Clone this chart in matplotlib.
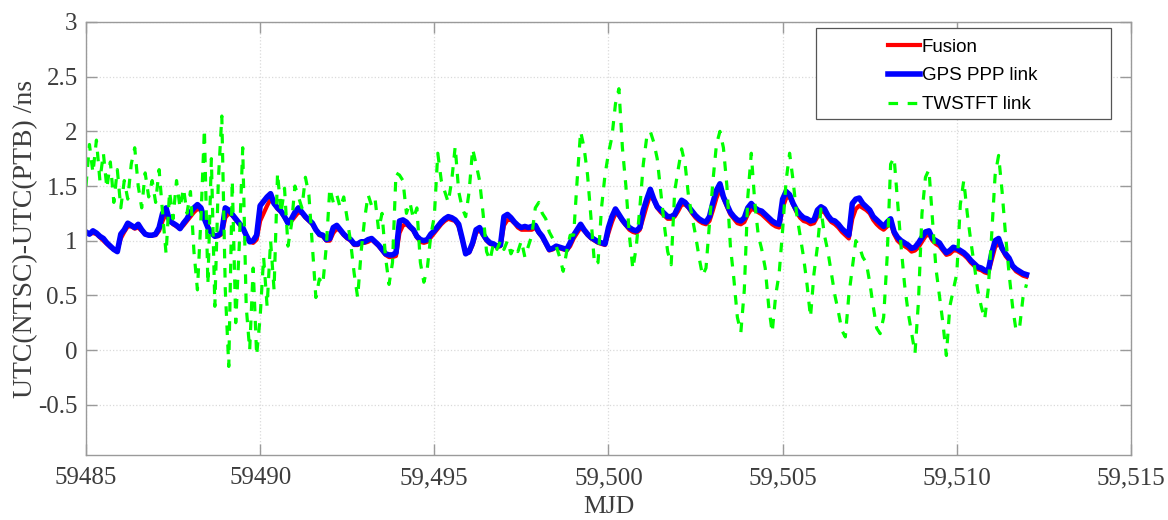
import numpy as np
import matplotlib
matplotlib.use("Agg")
import matplotlib.pyplot as plt
from matplotlib.patches import Rectangle

# MJD grid: one sample every 0.1 day from 59485.0 to 59512.0
mjd_start = 59485.0
mjd_step = 0.1

# one row = one day (.0 ... .9), last value is 59512.0
fusion = [
    1.07, 1.06, 1.07, 1.06, 1.03, 1.00, 0.97, 0.94, 0.92, 0.91,
    1.02, 1.08, 1.13, 1.13, 1.11, 1.12, 1.09, 1.06, 1.05, 1.05,
    1.05, 1.09, 1.18, 1.25, 1.19, 1.15, 1.13, 1.11, 1.14, 1.18,
    1.22, 1.26, 1.29, 1.28, 1.20, 1.13, 1.07, 1.04, 1.04, 1.06,
    1.21, 1.25, 1.23, 1.19, 1.15, 1.11, 1.05, 0.99, 0.98, 1.01,
    1.18, 1.25, 1.32, 1.38, 1.34, 1.29, 1.26, 1.21, 1.16, 1.18,
    1.22, 1.26, 1.25, 1.21, 1.18, 1.15, 1.10, 1.05, 1.04, 1.00,
    1.00, 1.07, 1.11, 1.09, 1.05, 1.02, 1.00, 0.96, 0.96, 0.98,
    0.98, 0.99, 1.01, 0.98, 0.95, 0.91, 0.87, 0.85, 0.85, 0.86,
    1.07, 1.14, 1.15, 1.12, 1.09, 1.03, 0.99, 0.98, 0.99, 1.03,
    1.07, 1.11, 1.15, 1.18, 1.20, 1.19, 1.18, 1.13, 1.01, 0.89,
    0.89, 0.96, 1.07, 1.10, 1.05, 1.00, 0.97, 0.96, 0.94, 0.95,
    1.14, 1.19, 1.19, 1.16, 1.12, 1.10, 1.10, 1.10, 1.10, 1.12,
    1.07, 1.03, 0.97, 0.91, 0.92, 0.94, 0.93, 0.92, 0.91, 0.95,
    1.02, 1.07, 1.12, 1.09, 1.05, 1.02, 1.00, 0.98, 0.97, 0.96,
    1.07, 1.17, 1.25, 1.23, 1.18, 1.14, 1.10, 1.08, 1.07, 1.10,
    1.21, 1.32, 1.42, 1.37, 1.30, 1.26, 1.23, 1.20, 1.20, 1.22,
    1.27, 1.33, 1.33, 1.30, 1.25, 1.21, 1.18, 1.16, 1.15, 1.18,
    1.28, 1.39, 1.47, 1.39, 1.31, 1.24, 1.20, 1.16, 1.15, 1.17,
    1.24, 1.29, 1.28, 1.26, 1.24, 1.21, 1.18, 1.15, 1.13, 1.12,
    1.30, 1.39, 1.40, 1.33, 1.26, 1.21, 1.18, 1.17, 1.15, 1.16,
    1.22, 1.27, 1.26, 1.21, 1.17, 1.15, 1.12, 1.08, 1.05, 1.02,
    1.20, 1.29, 1.32, 1.30, 1.28, 1.25, 1.19, 1.15, 1.12, 1.10,
    1.13, 1.16, 1.06, 1.00, 0.97, 0.95, 0.93, 0.90, 0.91, 0.94,
    0.99, 1.04, 1.06, 1.00, 0.97, 0.95, 0.91, 0.87, 0.88, 0.91,
    0.91, 0.89, 0.87, 0.84, 0.80, 0.77, 0.74, 0.73, 0.71, 0.70,
    0.82, 0.94, 0.98, 0.92, 0.86, 0.82, 0.76, 0.72, 0.70, 0.68,
    0.67,
]

gps_ppp = [
    1.08, 1.06, 1.09, 1.07, 1.04, 1.02, 0.98, 0.95, 0.92, 0.90,
    1.06, 1.10, 1.16, 1.14, 1.12, 1.15, 1.10, 1.06, 1.05, 1.05,
    1.06, 1.12, 1.25, 1.30, 1.18, 1.16, 1.14, 1.11, 1.16, 1.20,
    1.26, 1.30, 1.33, 1.30, 1.20, 1.12, 1.07, 1.04, 1.05, 1.08,
    1.30, 1.28, 1.24, 1.20, 1.16, 1.12, 1.05, 0.99, 1.00, 1.05,
    1.32, 1.36, 1.40, 1.43, 1.34, 1.30, 1.27, 1.22, 1.16, 1.20,
    1.26, 1.30, 1.26, 1.22, 1.19, 1.16, 1.10, 1.06, 1.05, 1.01,
    1.02, 1.12, 1.14, 1.10, 1.06, 1.03, 1.01, 0.97, 0.97, 0.99,
    0.99, 1.01, 1.02, 0.99, 0.96, 0.92, 0.88, 0.87, 0.87, 0.89,
    1.18, 1.19, 1.17, 1.13, 1.10, 1.04, 1.01, 1.00, 1.01, 1.06,
    1.09, 1.13, 1.17, 1.20, 1.22, 1.21, 1.19, 1.15, 1.02, 0.88,
    0.90, 0.98, 1.10, 1.12, 1.06, 1.01, 0.98, 0.97, 0.95, 0.96,
    1.22, 1.24, 1.21, 1.17, 1.14, 1.12, 1.13, 1.12, 1.13, 1.14,
    1.08, 1.04, 0.98, 0.92, 0.93, 0.95, 0.94, 0.93, 0.92, 0.98,
    1.05, 1.10, 1.15, 1.10, 1.06, 1.03, 1.01, 0.99, 0.98, 0.97,
    1.12, 1.22, 1.29, 1.24, 1.19, 1.15, 1.12, 1.10, 1.09, 1.12,
    1.28, 1.38, 1.47, 1.38, 1.31, 1.28, 1.25, 1.22, 1.22, 1.24,
    1.31, 1.37, 1.35, 1.31, 1.27, 1.23, 1.20, 1.18, 1.17, 1.22,
    1.35, 1.46, 1.52, 1.40, 1.33, 1.26, 1.22, 1.19, 1.18, 1.21,
    1.30, 1.34, 1.30, 1.28, 1.27, 1.24, 1.21, 1.18, 1.16, 1.15,
    1.38, 1.45, 1.42, 1.34, 1.28, 1.24, 1.21, 1.20, 1.18, 1.19,
    1.28, 1.31, 1.29, 1.23, 1.19, 1.18, 1.15, 1.11, 1.08, 1.05,
    1.34, 1.38, 1.39, 1.34, 1.31, 1.28, 1.22, 1.19, 1.16, 1.13,
    1.17, 1.20, 1.08, 1.03, 1.00, 0.98, 0.96, 0.93, 0.94, 0.98,
    1.03, 1.08, 1.09, 1.02, 1.00, 0.98, 0.93, 0.89, 0.91, 0.94,
    0.93, 0.91, 0.89, 0.86, 0.82, 0.79, 0.76, 0.75, 0.73, 0.72,
    0.88, 1.00, 1.02, 0.93, 0.88, 0.84, 0.77, 0.74, 0.72, 0.70,
    0.69,
]

twstft = [
    1.50, 1.88, 1.62, 1.92, 1.55, 1.80, 1.48, 1.72, 1.35, 1.65,
    1.30, 1.55, 1.38, 1.70, 1.85, 1.50, 1.30, 1.62, 1.40, 1.55,
    1.35, 1.65, 1.25, 0.88, 1.45, 1.20, 1.55, 1.30, 1.48, 1.25,
    1.45, 0.90, 0.55, 1.20, 2.02, 0.60, 1.75, 0.40, 1.55, 2.14,
    0.55, -0.15, 1.55, 0.25, 0.95, 1.85, 0.40, 0.00, 0.75, -0.05,
    0.30, 0.85, 0.40, 1.00, 0.55, 1.62, 1.25, 1.48, 0.95, 1.15,
    1.50, 1.40, 1.30, 1.58, 1.42, 0.95, 0.48, 0.65, 0.60, 0.95,
    1.48, 1.35, 1.42, 1.30, 1.40, 1.20, 0.98, 0.70, 0.48, 0.90,
    1.20, 1.42, 1.32, 1.38, 1.10, 1.25, 0.85, 0.60, 0.80, 1.62,
    1.60, 1.55, 1.25, 1.35, 1.20, 1.30, 0.80, 0.62, 0.75, 1.05,
    1.22, 1.80, 1.55, 1.45, 1.35, 1.55, 1.86, 1.45, 1.30, 1.22,
    1.45, 1.84, 1.70, 1.55, 1.25, 0.90, 0.82, 0.98, 0.92, 1.00,
    0.92, 1.00, 0.88, 0.95, 0.90, 1.00, 0.85, 0.95, 1.05, 1.30,
    1.35, 1.25, 1.20, 1.08, 1.02, 0.95, 0.85, 0.72, 0.90, 1.05,
    1.05, 1.55, 2.00, 1.85, 1.60, 1.20, 0.78, 0.80, 1.30, 1.60,
    1.80, 1.95, 2.25, 2.39, 1.85, 1.50, 1.05, 0.74, 0.95, 1.30,
    1.70, 1.95, 2.00, 1.90, 1.75, 1.45, 1.15, 0.90, 0.78, 1.45,
    1.65, 1.84, 1.70, 1.40, 1.22, 1.05, 0.85, 0.68, 0.75, 1.16,
    1.55, 1.88, 2.00, 1.85, 1.50, 0.95, 0.65, 0.30, 0.16, 0.55,
    1.40, 1.80, 1.35, 1.05, 0.92, 0.75, 0.40, 0.16, 0.50, 0.70,
    1.10, 1.55, 1.80, 1.55, 1.25, 1.05, 0.85, 0.60, 0.30, 0.70,
    0.95, 1.29, 1.05, 0.90, 0.70, 0.50, 0.35, 0.18, 0.12, 0.50,
    0.75, 1.00, 0.95, 0.85, 0.80, 0.62, 0.40, 0.20, 0.15, 0.30,
    0.85, 1.70, 1.76, 1.35, 0.95, 0.60, 0.35, 0.16, -0.03, 0.45,
    1.25, 1.58, 1.65, 1.20, 0.75, 0.50, 0.25, -0.05, 0.40, 0.55,
    0.70, 1.33, 1.55, 1.25, 1.00, 0.78, 0.55, 0.40, 0.28, 0.55,
    1.05, 1.60, 1.78, 1.45, 1.05, 0.70, 0.40, 0.18, 0.20, 0.48,
    0.60,
]

mjd = mjd_start + mjd_step * np.arange(len(gps_ppp))

xticks = [59485, 59490, 59495, 59500, 59505, 59510, 59515]
xtick_labels = ["59485", "59490", "59,495", "59,500", "59,505", "59,510", "59,515"]
yticks = [-0.5, 0, 0.5, 1, 1.5, 2, 2.5, 3]
ytick_labels = ["-0.5", "0", "0.5", "1", "1.5", "2", "2.5", "3"]

axis_gray = "#9a9a9a"
text_gray = "#3c3c3c"
serif = ["Liberation Serif", "DejaVu Serif"]

fig = plt.figure(figsize=(11.68, 5.2), dpi=100)
ax = fig.add_axes([0.0736, 0.125, 0.8947, 0.8327])

ax.plot(mjd, fusion, color="#ff0000", lw=3.0, label="Fusion")
ax.plot(mjd, gps_ppp, color="#0000ff", lw=4.0, label="GPS PPP link")
ax.plot(mjd, twstft, color="#00ff00", lw=2.3, ls=(0, (3, 3)), label="TWSTFT link")

ax.set_xlim(59485, 59515)
ax.set_ylim(-0.96, 3)
ax.set_xticks(xticks)
ax.set_xticklabels(xtick_labels, family=serif, fontsize=18, color=text_gray)
ax.set_yticks(yticks)
ax.set_yticklabels(ytick_labels, family=serif, fontsize=18, color=text_gray)
ax.tick_params(direction="in", length=8, width=1, color=axis_gray,
               top=True, right=True)
ax.tick_params(axis="x", pad=9)
ax.tick_params(axis="y", pad=6)
for s in ax.spines.values():
    s.set_color(axis_gray)
    s.set_linewidth(1)

ax.grid(True, ls=":", color="#dadada", lw=0.9)
ax.set_axisbelow(True)

ax.set_xlabel("MJD", family=serif, fontsize=18.5, color=text_gray, labelpad=5)
ax.set_ylabel("UTC(NTSC)-UTC(PTB) /ns", family=serif, fontsize=20,
              color=text_gray, labelpad=0)

# MATLAB style legend box: a wide empty margin left of the handles
ax.add_patch(Rectangle((0.699, 0.776), 0.282, 0.21, transform=ax.transAxes,
                       facecolor="white", edgecolor="#555555", lw=0.9, zorder=5))
leg = ax.legend(loc="upper left", bbox_to_anchor=(0.7675, 0.962),
                frameon=False, borderpad=0, borderaxespad=0,
                handlelength=1.7, handletextpad=0.1, labelspacing=0.62,
                prop={"family": ["Liberation Sans", "DejaVu Sans"], "size": 13.5})
leg.set_zorder(6)

fig.savefig("out.png", dpi=100)
